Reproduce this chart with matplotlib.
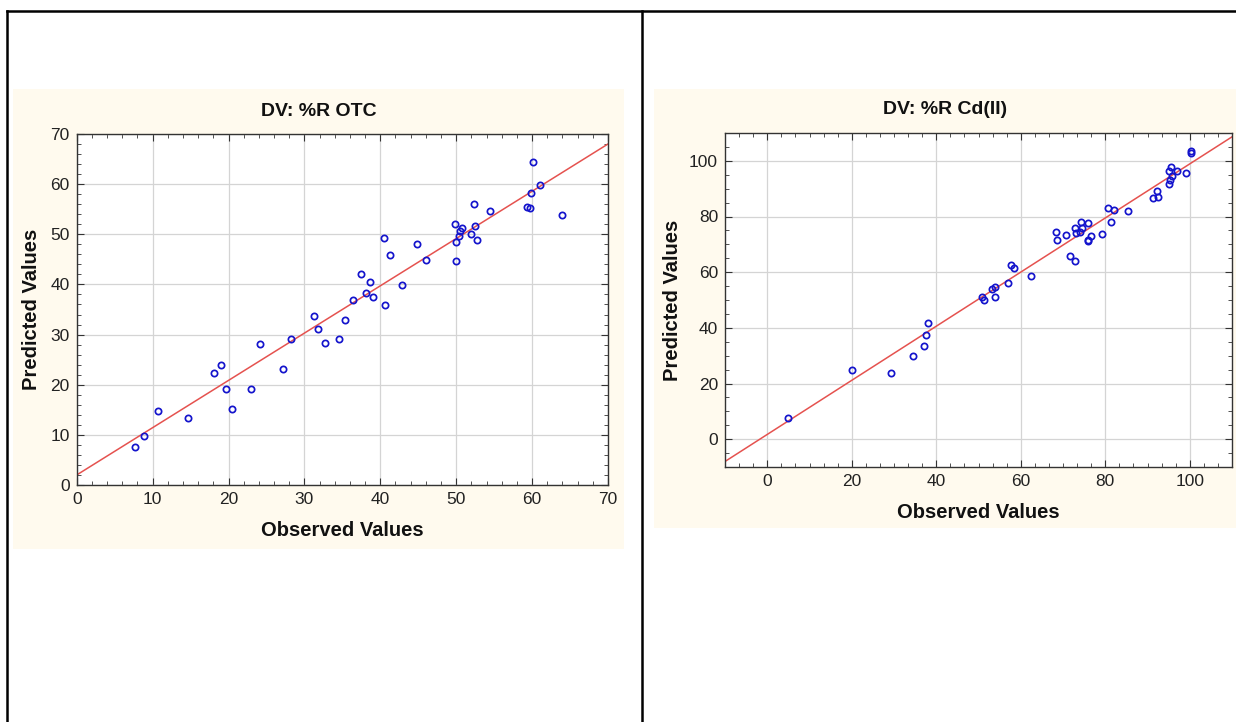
import matplotlib
matplotlib.use('Agg')
import matplotlib.pyplot as plt
import numpy as np
from matplotlib.lines import Line2D
from matplotlib.patches import Rectangle
from matplotlib.ticker import MultipleLocator, AutoMinorLocator

plt.rcParams['font.family'] = ['Liberation Sans', 'DejaVu Sans']

# ====================== Data ======================
# %R OTC
otc_observed = [7.7, 8.9, 10.7, 14.7, 18.1, 19.0, 19.7, 20.4, 23.0, 24.1, 27.2, 28.3,
                31.3, 31.8, 32.7, 34.6, 35.4, 36.4, 37.4, 38.1, 38.6, 39.1, 40.5, 40.6,
                41.3, 42.8, 44.8, 46.0, 49.8, 50.0, 50.0, 50.4, 50.5, 50.7, 52.0, 52.3,
                52.5, 52.8, 54.5, 59.3, 59.7, 59.8, 60.1, 61.1, 63.9]
otc_predicted = [7.6, 9.8, 14.8, 13.3, 22.3, 24.0, 19.1, 15.2, 19.2, 28.1, 23.2, 29.1,
                 33.7, 31.1, 28.3, 29.1, 32.9, 36.9, 42.1, 38.2, 40.5, 37.4, 49.3, 35.8,
                 45.8, 39.9, 48.0, 44.8, 52.0, 48.5, 44.6, 49.6, 50.7, 51.2, 50.1, 56.1,
                 51.6, 48.9, 54.6, 55.5, 55.3, 58.3, 64.5, 59.9, 53.8]
otc_fit = [2.0, 0.943]  # intercept, slope

# %R Cd(II)
cd_observed = [5.0, 20.0, 29.3, 34.6, 37.0, 37.5, 38.0, 50.9, 51.4, 53.1, 53.8, 54.0,
               57.1, 57.6, 58.5, 62.5, 68.4, 68.6, 70.6, 71.6, 72.9, 72.9, 73.0, 74.1,
               74.2, 74.6, 76.0, 76.0, 76.0, 76.7, 79.3, 80.6, 81.3, 82.0, 85.3, 91.2,
               92.3, 92.5, 95.0, 95.3, 95.1, 95.6, 95.9, 97.1, 99.2, 100.2, 100.2]
cd_predicted = [7.7, 24.9, 23.9, 29.9, 33.6, 37.3, 41.9, 51.2, 50.0, 54.0, 51.1, 54.8,
                56.1, 62.4, 61.4, 58.7, 74.4, 71.4, 73.5, 65.7, 75.8, 64.0, 74.0, 74.4,
                78.1, 75.8, 77.5, 71.7, 71.3, 73.1, 73.8, 82.9, 78.1, 82.5, 81.8, 86.5,
                89.2, 87.1, 91.8, 93.0, 96.2, 97.7, 94.6, 96.2, 95.8, 103.6, 102.9]
cd_fit = [1.7, 0.972]

W, H = 1236, 722
fig = plt.figure(figsize=(W / 100, H / 100), dpi=100)
fig.patch.set_facecolor('white')


def fx(px):
    return px / W


def fy(py):
    return 1 - py / H


# ====================== Table lines ======================
for xs, ys in [((7, W), (11, 11)), ((7, 7), (11, H)), ((642, 642), (11, H))]:
    fig.add_artist(Line2D([fx(x) for x in xs], [fy(y) for y in ys], color='black',
                          linewidth=1.8, transform=fig.transFigure))

# ====================== Beige panels ======================
beige = '#fffaee'
fig.add_artist(Rectangle((fx(13), fy(549)), fx(624) - fx(13), fy(89) - fy(549),
                         facecolor=beige, edgecolor='none', transform=fig.transFigure, zorder=0))
fig.add_artist(Rectangle((fx(654), fy(528)), fx(1236) - fx(654), fy(89) - fy(528),
                         facecolor=beige, edgecolor='none', transform=fig.transFigure, zorder=0))


def draw_panel(rect_px, obs, pred, fit, lims, major, minor_x, minor_y, title, title_xy,
               xlabel_y, ylabel_x):
    left, top, right, bottom = rect_px
    ax = fig.add_axes([fx(left), fy(bottom), fx(right) - fx(left), fy(top) - fy(bottom)])
    ax.set_facecolor('white')
    ax.set_xlim(*lims)
    ax.set_ylim(*lims)

    # fitted line
    xl = np.array(lims)
    ax.plot(xl, fit[0] + fit[1] * xl, color='#e5524f', linewidth=1.1, zorder=2)
    # points
    ax.plot(obs, pred, linestyle='none', marker='o', markersize=4.5, markerfacecolor='none',
            markeredgecolor='#1414cc', markeredgewidth=1.25, zorder=3)

    ax.xaxis.set_major_locator(MultipleLocator(major))
    ax.yaxis.set_major_locator(MultipleLocator(major))
    ax.xaxis.set_minor_locator(AutoMinorLocator(minor_x))
    ax.yaxis.set_minor_locator(AutoMinorLocator(minor_y))
    ax.grid(True, which='major', color='#d4d4d4', linewidth=0.9, zorder=0)
    ax.set_axisbelow(True)
    ax.tick_params(which='both', direction='in', top=True, right=True, color='#333333')
    ax.tick_params(which='major', length=5, labelsize=12.5, labelcolor='#222222', pad=5)
    ax.tick_params(which='minor', length=3)
    for s in ax.spines.values():
        s.set_color('#333333')
        s.set_linewidth(1.0)

    ax.set_xlabel('Observed Values', fontsize=14.5, fontweight='bold', color='#111111', va='center')
    ax.set_ylabel('Predicted Values', fontsize=14.5, fontweight='bold', color='#111111', va='center')
    ax.xaxis.set_label_coords(0.5, (bottom - xlabel_y) / (bottom - top))
    ax.yaxis.set_label_coords((ylabel_x - left) / (right - left), 0.5)

    fig.text(fx(title_xy[0]), fy(title_xy[1]), title, ha='center', va='center',
             fontsize=14, fontweight='bold', color='#111111')
    return ax


draw_panel((76.7, 134, 608, 485), otc_observed, otc_predicted, otc_fit, (0, 70), 10, 5, 5,
           'DV: %R OTC', (318.5, 111), 531, 32)
draw_panel((725, 133, 1232, 467), cd_observed, cd_predicted, cd_fit, (-10, 110), 20, 6, 4,
           'DV: %R Cd(II)', (945, 110), 512, 672)

fig.savefig('out.png', dpi=100, facecolor='white')
